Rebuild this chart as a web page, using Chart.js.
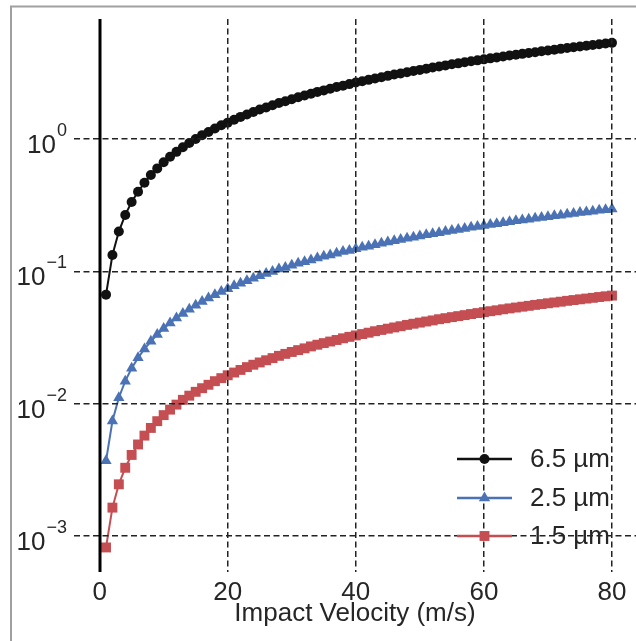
<!DOCTYPE html>
<html>
<head>
<meta charset="utf-8">
<script src="https://cdn.jsdelivr.net/npm/chart.js@4/dist/chart.umd.min.js"></script>
<style>
  html, body { margin: 0; padding: 0; background: #fff; overflow: hidden; }
  canvas { display: block; }
</style>
</head>
<body>
<canvas id="impact" width="643" height="641"></canvas>
<script>
// impact velocity (m/s)
const velocity = [
  1, 2, 3, 4, 5, 6, 7, 8, 9, 10, 11, 12, 13, 14, 15, 16, 17, 18, 19, 20,
  21, 22, 23, 24, 25, 26, 27, 28, 29, 30, 31, 32, 33, 34, 35, 36, 37, 38, 39, 40,
  41, 42, 43, 44, 45, 46, 47, 48, 49, 50, 51, 52, 53, 54, 55, 56, 57, 58, 59, 60,
  61, 62, 63, 64, 65, 66, 67, 68, 69, 70, 71, 72, 73, 74, 75, 76, 77, 78, 79, 80
];

const d65 = [
  0.0667, 0.133, 0.200, 0.267, 0.334, 0.400, 0.467, 0.534, 0.600, 0.667,
  0.734, 0.800, 0.867, 0.934, 1.00, 1.07, 1.13, 1.20, 1.27, 1.33,
  1.40, 1.47, 1.53, 1.60, 1.67, 1.73, 1.80, 1.87, 1.93, 2.00,
  2.07, 2.13, 2.20, 2.27, 2.33, 2.40, 2.47, 2.53, 2.60, 2.67,
  2.73, 2.80, 2.87, 2.93, 3.00, 3.07, 3.13, 3.20, 3.27, 3.33,
  3.40, 3.47, 3.53, 3.60, 3.67, 3.73, 3.80, 3.87, 3.93, 4.00,
  4.07, 4.13, 4.20, 4.27, 4.33, 4.40, 4.47, 4.53, 4.60, 4.67,
  4.73, 4.80, 4.87, 4.93, 5.00, 5.07, 5.13, 5.20, 5.27, 5.33
];

const d25 = [
  0.0037, 0.0074, 0.0111, 0.0148, 0.0185, 0.0222, 0.0259, 0.0296, 0.0333, 0.0370,
  0.0407, 0.0444, 0.0481, 0.0518, 0.0555, 0.0592, 0.0629, 0.0666, 0.0703, 0.0740,
  0.0777, 0.0814, 0.0851, 0.0888, 0.0925, 0.0962, 0.0999, 0.104, 0.107, 0.111,
  0.115, 0.118, 0.122, 0.126, 0.130, 0.133, 0.137, 0.141, 0.144, 0.148,
  0.152, 0.155, 0.159, 0.163, 0.167, 0.170, 0.174, 0.178, 0.181, 0.185,
  0.189, 0.192, 0.196, 0.200, 0.204, 0.207, 0.211, 0.215, 0.218, 0.222,
  0.226, 0.229, 0.233, 0.237, 0.241, 0.244, 0.248, 0.252, 0.255, 0.259,
  0.263, 0.266, 0.270, 0.274, 0.278, 0.281, 0.285, 0.289, 0.292, 0.296
];

const d15 = [
  0.00082, 0.00164, 0.00246, 0.00328, 0.0041, 0.00492, 0.00574, 0.00656, 0.00738, 0.0082,
  0.00902, 0.00984, 0.0107, 0.0115, 0.0123, 0.0131, 0.0139, 0.0148, 0.0156, 0.0164,
  0.0172, 0.0180, 0.0189, 0.0197, 0.0205, 0.0213, 0.0221, 0.0230, 0.0238, 0.0246,
  0.0254, 0.0262, 0.0271, 0.0279, 0.0287, 0.0295, 0.0303, 0.0312, 0.0320, 0.0328,
  0.0336, 0.0344, 0.0353, 0.0361, 0.0369, 0.0377, 0.0385, 0.0394, 0.0402, 0.0410,
  0.0418, 0.0426, 0.0435, 0.0443, 0.0451, 0.0459, 0.0467, 0.0476, 0.0484, 0.0492,
  0.0500, 0.0508, 0.0517, 0.0525, 0.0533, 0.0541, 0.0549, 0.0558, 0.0566, 0.0574,
  0.0582, 0.0590, 0.0599, 0.0607, 0.0615, 0.0623, 0.0631, 0.0640, 0.0648, 0.0656
];

const seriesNames = ['6.5 µm', '2.5 µm', '1.5 µm'];
const xTicks = [0, 20, 40, 60, 80];
const yExponents = [-3, -2, -1, 0];

const FONT = '"Liberation Sans", Arial, Helvetica, sans-serif';
const TEXT = '#262626';
const GRID = '#222222';

function pts(ys) {
  return velocity.map((v, i) => ({ x: v, y: ys[i] }));
}

function series(label, ys, color, style, radius) {
  return {
    label: label,
    data: pts(ys),
    borderColor: color,
    backgroundColor: color,
    borderWidth: 2,
    pointStyle: style,
    pointRadius: radius,
    pointBorderWidth: 0,
    pointHoverRadius: radius,
    tension: 0
  };
}

// frame, axis line at v = 0, log tick labels and the legend
const decor = {
  id: 'decor',
  beforeDraw(chart) {
    const ctx = chart.ctx;
    ctx.save();
    ctx.fillStyle = '#fff';
    ctx.fillRect(0, 0, chart.width, chart.height);
    ctx.strokeStyle = '#a0a0a0';
    ctx.lineWidth = 2;
    ctx.beginPath();
    ctx.moveTo(11, chart.height);
    ctx.lineTo(11, 6.5);
    ctx.lineTo(chart.width, 6.5);
    ctx.stroke();
    ctx.restore();
  },
  afterDraw(chart) {
    const ctx = chart.ctx;
    const area = chart.chartArea;
    const xs = chart.scales.x;
    const ys = chart.scales.y;
    ctx.save();

    // vertical axis at zero velocity
    const x0 = Math.round(xs.getPixelForValue(0));
    ctx.strokeStyle = '#000';
    ctx.lineWidth = 3;
    ctx.beginPath();
    ctx.moveTo(x0, area.top);
    ctx.lineTo(x0, area.bottom);
    ctx.stroke();

    // 10^n labels
    ctx.fillStyle = TEXT;
    ctx.textBaseline = 'alphabetic';
    yExponents.forEach(e => {
      const py = ys.getPixelForValue(Math.pow(10, e));
      const sup = e < 0 ? '\u2212' + (-e) : String(e);
      ctx.font = '18px ' + FONT;
      ctx.textAlign = 'right';
      const right = area.left - 7;
      ctx.fillText(sup, right, py - 3);
      const w = ctx.measureText(sup).width;
      ctx.font = '26px ' + FONT;
      ctx.fillText('10', right - w - 1, py + 14);
    });

    // legend
    const rows = [459, 498, 536];
    chart.data.datasets.forEach((ds, i) => {
      const y = rows[i];
      ctx.strokeStyle = ds.borderColor;
      ctx.lineWidth = 2.5;
      ctx.beginPath();
      ctx.moveTo(457, y);
      ctx.lineTo(512, y);
      ctx.stroke();
      ctx.fillStyle = ds.backgroundColor;
      const cx = 484.5, r = ds.pointRadius;
      ctx.beginPath();
      if (ds.pointStyle === 'circle') {
        ctx.arc(cx, y, r, 0, Math.PI * 2);
      } else if (ds.pointStyle === 'triangle') {
        ctx.moveTo(cx, y - r);
        ctx.lineTo(cx + r * 0.866, y + r * 0.5);
        ctx.lineTo(cx - r * 0.866, y + r * 0.5);
        ctx.closePath();
      } else {
        const s = r * Math.SQRT1_2;
        ctx.rect(cx - s, y - s, 2 * s, 2 * s);
      }
      ctx.fill();
      ctx.fillStyle = TEXT;
      ctx.font = '26px ' + FONT;
      ctx.textAlign = 'left';
      ctx.textBaseline = 'middle';
      ctx.fillText(ds.label, 530, y + 1);
    });
    ctx.restore();
  }
};

new Chart(document.getElementById('impact'), {
  type: 'line',
  data: {
    datasets: [
      series(seriesNames[0], d65, '#111111', 'circle', 5),
      series(seriesNames[1], d25, '#4a72b5', 'triangle', 6.5),
      series(seriesNames[2], d15, '#c44e52', 'rect', 7)
    ]
  },
  options: {
    responsive: false,
    animation: false,
    devicePixelRatio: 1,
    layout: { padding: { left: 74, top: 19, right: 0, bottom: 10 } },
    plugins: {
      legend: { display: false },
      tooltip: { enabled: false }
    },
    scales: {
      x: {
        type: 'linear',
        min: -4,
        max: 83.75,
        afterBuildTicks: s => { s.ticks = xTicks.map(v => ({ value: v })); },
        grid: {
          color: c => (c.tick && c.tick.value === 0) ? 'rgba(0,0,0,0)' : GRID,
          lineWidth: 1.5,
          drawTicks: false,
          z: 1
        },
        border: { display: false, dash: [6, 3.5] },
        ticks: {
          color: TEXT,
          font: { family: FONT, size: 26, lineHeight: 1 },
          padding: 8,
          maxRotation: 0,
          autoSkip: false
        },
        title: {
          display: true,
          text: 'Impact Velocity (m/s)',
          color: TEXT,
          font: { family: FONT, size: 26, lineHeight: 1 },
          padding: { top: -13, bottom: 4 }
        }
      },
      y: {
        type: 'logarithmic',
        min: 5.35e-4,
        max: 8.07,
        afterBuildTicks: s => { s.ticks = yExponents.map(e => ({ value: Math.pow(10, e) })); },
        grid: { color: GRID, lineWidth: 1.5, drawTicks: false, z: 1 },
        border: { display: false, dash: [6, 3.5] },
        ticks: { display: false }
      }
    }
  },
  plugins: [decor]
});
</script>
</body>
</html>
